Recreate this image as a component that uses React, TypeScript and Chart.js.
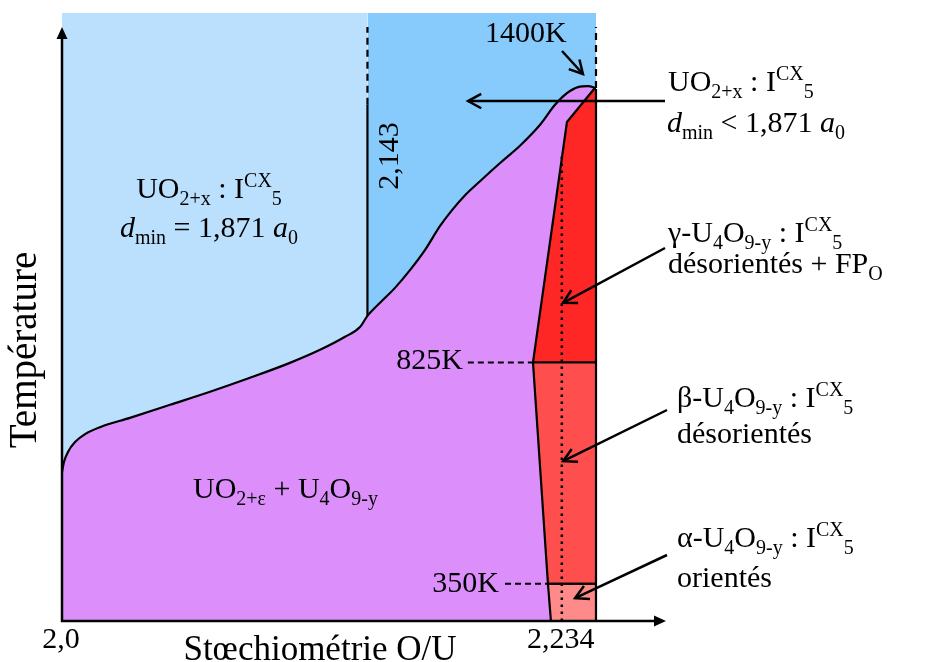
import React, { useEffect, useRef } from "react";
import { Chart, registerables } from "chart.js";
Chart.register(...registerables);

// ---------- data ----------
const stoichMin = 2.0;
const stoichMax = 2.25;
const tempMin = 270;
const tempMax = 1575;

const stoichTicks = [2.0, 2.234];
const stoichTickLabels = ["2,0", "2,234"];

const limit2143 = 2.143;
const limit2143Label = "2,143";
const limitU4O9 = 2.234;

// UO2+x / (UO2+ε + U4O9-y) boundary
const boundaryX = [
  2.0, 2.0009, 2.0028, 2.0061, 2.0108, 2.0178, 2.0318, 2.0506, 2.0693, 2.088,
  2.1067, 2.1208, 2.1325, 2.1395, 2.143, 2.1489, 2.1559, 2.1629, 2.1699, 2.177,
  2.1826, 2.1887, 2.1957, 2.2051, 2.2144, 2.2238, 2.2308, 2.2364, 2.2416, 2.2463,
  2.25,
];
const boundaryT = [
  590, 611, 633, 654, 671, 686, 706, 734, 762, 792,
  824, 852, 880, 901, 925, 953, 985, 1023, 1066, 1118,
  1152, 1184, 1214, 1253, 1290, 1335, 1378, 1403, 1416, 1418,
  1414,
];

// U4O9-y domains
const gammaX = [2.2205, 2.2364, 2.2491, 2.25];
const gammaT = [825, 1341, 1412, 1412];
const betaX = [2.2205, 2.2275, 2.25];
const betaT = [825, 350, 350];
const alphaX = [2.2275, 2.2289, 2.25];
const alphaT = [350, 270, 270];

const transitionT = [350, 825, 1400];
const transitionLabels = ["350K", "825K", "1400K"];
const transitionDashStart = [2.2074, 2.19];
const transitionDashEnd = [2.2275, 2.2205];

const dottedTopT = 1268;
const dash2143Start = 1378;
const dashTopT = 1545;

// ---------- styles ----------
const FONT = "'Liberation Serif', 'Times New Roman', serif";
const C_LIGHTBLUE = "#BBE0FD";
const C_BLUE = "#86CBFB";
const C_PURPLE = "#DC8FFB";
const C_GAMMA = "#FF2626";
const C_BETA = "#FF4E4E";
const C_ALPHA = "#FF8A8A";

const pts = (xs: number[], ts: number[]) => xs.map((x, i) => ({ x, y: ts[i] }));

type Seg = [string, string];

function fontFor(k: string, size: number) {
  const small = Math.round(size * 0.66);
  if (k === "i") return `italic ${size}px ${FONT}`;
  if (k === "s" || k === "p") return `${small}px ${FONT}`;
  return `${size}px ${FONT}`;
}
function richWidth(ctx: CanvasRenderingContext2D, segs: Seg[], size: number) {
  let w = 0;
  for (const [t, k] of segs) {
    ctx.font = fontFor(k, size);
    w += ctx.measureText(t).width;
  }
  return w;
}
function drawRich(
  ctx: CanvasRenderingContext2D,
  segs: Seg[],
  x: number,
  y: number,
  align: "left" | "center",
  size = 30
) {
  let cx = align === "center" ? x - richWidth(ctx, segs, size) / 2 : x;
  ctx.textAlign = "left";
  ctx.textBaseline = "alphabetic";
  for (const [t, k] of segs) {
    ctx.font = fontFor(k, size);
    let dy = 0;
    if (k === "s") dy = size * 0.24;
    if (k === "p") dy = -size * 0.36;
    ctx.fillText(t, cx, y + dy);
    cx += ctx.measureText(t).width;
  }
}

function arrow(ctx: CanvasRenderingContext2D, x0: number, y0: number, x1: number, y1: number) {
  ctx.beginPath();
  ctx.moveTo(x0, y0);
  ctx.lineTo(x1, y1);
  ctx.stroke();
  const ang = Math.atan2(y1 - y0, x1 - x0);
  const L = 15;
  const sp = 0.5;
  ctx.beginPath();
  ctx.moveTo(x1 - L * Math.cos(ang - sp), y1 - L * Math.sin(ang - sp));
  ctx.lineTo(x1, y1);
  ctx.lineTo(x1 - L * Math.cos(ang + sp), y1 - L * Math.sin(ang + sp));
  ctx.stroke();
}

const uoLine1: Seg[] = [["UO", "n"], ["2+x", "s"], [" : I", "n"], ["CX", "p"], ["5", "s"]];
const uoLeftLine2: Seg[] = [["d", "i"], ["min", "s"], [" = 1,871 ", "n"], ["a", "i"], ["0", "s"]];
const uoRightLine2: Seg[] = [["d", "i"], ["min", "s"], [" < 1,871 ", "n"], ["a", "i"], ["0", "s"]];
const u4o9Line = (greek: string): Seg[] => [
  [greek + "-U", "n"], ["4", "s"], ["O", "n"], ["9-y", "s"], [" : I", "n"], ["CX", "p"], ["5", "s"],
];
const gammaLine2: Seg[] = [["désorientés + FP", "n"], ["O", "s"]];
const betaLine2: Seg[] = [["désorientés", "n"]];
const alphaLine2: Seg[] = [["orientés", "n"]];
const mixLabel: Seg[] = [["UO", "n"], ["2+ε", "s"], [" + U", "n"], ["4", "s"], ["O", "n"], ["9-y", "s"]];

const annotationPlugin = {
  id: "annotations",
  afterDatasetsDraw(chart: any) {
    const { ctx, chartArea: a, scales } = chart;
    const X = (v: number) => scales.x.getPixelForValue(v);
    const Y = (v: number) => scales.y.getPixelForValue(v);
    ctx.save();
    ctx.strokeStyle = "#000";
    ctx.fillStyle = "#000";
    ctx.lineWidth = 2.5;
    ctx.lineCap = "butt";

    // axes
    ctx.beginPath();
    ctx.moveTo(a.left, a.bottom + 1);
    ctx.lineTo(a.left, 36);
    ctx.stroke();
    ctx.beginPath();
    ctx.moveTo(a.left, 27);
    ctx.lineTo(a.left - 5.5, 39);
    ctx.lineTo(a.left + 5.5, 39);
    ctx.closePath();
    ctx.fill();

    const xEnd = a.right + 70;
    ctx.beginPath();
    ctx.moveTo(a.left - 1, a.bottom);
    ctx.lineTo(xEnd - 8, a.bottom);
    ctx.stroke();
    ctx.beginPath();
    ctx.moveTo(xEnd, a.bottom);
    ctx.lineTo(xEnd - 12, a.bottom - 5.5);
    ctx.lineTo(xEnd - 12, a.bottom + 5.5);
    ctx.closePath();
    ctx.fill();

    // tick labels
    ctx.font = `30px ${FONT}`;
    ctx.textAlign = "center";
    ctx.textBaseline = "alphabetic";
    stoichTicks.forEach((s, i) => ctx.fillText(stoichTickLabels[i], X(s) - 1, a.bottom + 27));

    // axis titles
    ctx.font = `35px ${FONT}`;
    ctx.fillText("Stœchiométrie O/U", 320, a.bottom + 39);
    ctx.save();
    ctx.translate(36, 350);
    ctx.rotate(-Math.PI / 2);
    ctx.font = `39px ${FONT}`;
    ctx.fillText("Température", 0, 0);
    ctx.restore();

    // 2,143 label
    ctx.save();
    ctx.translate(X(limit2143) + 23, 156);
    ctx.rotate(-Math.PI / 2);
    ctx.font = `30px ${FONT}`;
    ctx.textAlign = "center";
    ctx.textBaseline = "middle";
    ctx.fillText(limit2143Label, 0, 0);
    ctx.restore();

    // transition temperature labels
    ctx.font = `30px ${FONT}`;
    ctx.textAlign = "right";
    ctx.textBaseline = "alphabetic";
    ctx.fillText(transitionLabels[0], X(transitionDashStart[0]) - 6, Y(transitionT[0]) + 8);
    ctx.fillText(transitionLabels[1], X(transitionDashStart[1]) - 5, Y(transitionT[1]) + 7);
    ctx.textAlign = "left";
    ctx.fillText(transitionLabels[2], 485, 42);

    // region labels
    drawRich(ctx, uoLine1, 209, 198, "center");
    drawRich(ctx, uoLeftLine2, 209, 237, "center");
    drawRich(ctx, mixLabel, 193, 498, "left");

    drawRich(ctx, uoLine1, 668, 91, "left");
    drawRich(ctx, uoRightLine2, 667, 132, "left");
    drawRich(ctx, u4o9Line("γ"), 668, 242, "left");
    drawRich(ctx, gammaLine2, 668, 273, "left");
    drawRich(ctx, u4o9Line("β"), 677, 407, "left");
    drawRich(ctx, betaLine2, 677, 443, "left");
    drawRich(ctx, u4o9Line("α"), 677, 547, "left");
    drawRich(ctx, alphaLine2, 677, 587, "left");

    // arrows
    ctx.lineWidth = 2.5;
    arrow(ctx, 562, 51, X(2.2439), Y(1444));
    arrow(ctx, 665, 101, X(2.1901), Y(1386));
    arrow(ctx, 665, 248, X(2.2346), Y(953));
    arrow(ctx, 667, 410, X(2.2346), Y(613));
    arrow(ctx, 667, 555, X(2.2402), Y(319));

    ctx.restore();
  },
};

export default function App() {
  const ref = useRef<HTMLCanvasElement>(null);
  useEffect(() => {
    document.body.style.margin = "0";
    const line = (data: any[], extra: any = {}) => ({
      data,
      borderColor: "#000",
      borderWidth: 2.5,
      pointRadius: 0,
      fill: false,
      clip: 6,
      order: 10,
      ...extra,
    });
    const datasets: any[] = [
      line(pts([stoichMin, limit2143], [tempMax, tempMax]), {
        backgroundColor: C_LIGHTBLUE, borderWidth: 0, fill: "start", order: 100,
      }),
      line(pts([limit2143, stoichMax], [tempMax, tempMax]), {
        backgroundColor: C_BLUE, borderWidth: 0, fill: "start", order: 99,
      }),
      line(pts(boundaryX, boundaryT), {
        backgroundColor: C_PURPLE, fill: "start", order: 50, borderWidth: 2.2,
        cubicInterpolationMode: "monotone",
      }),
      line(pts(gammaX, gammaT), { backgroundColor: C_GAMMA, fill: { value: 825 }, order: 40, borderWidth: 2.2 }),
      line(pts(betaX, betaT), { backgroundColor: C_BETA, fill: { value: 825 }, order: 41, borderWidth: 2.2 }),
      line(pts(alphaX, alphaT), { backgroundColor: C_ALPHA, fill: { value: 350 }, order: 42, borderWidth: 2.2 }),
      line(pts([stoichMax, stoichMax], [tempMin, gammaT[gammaT.length - 1]]), { borderWidth: 2.2 }),
      line(pts([gammaX[0], stoichMax], [transitionT[1], transitionT[1]]), { borderWidth: 2.2 }),
      line(pts([betaX[1], stoichMax], [transitionT[0], transitionT[0]]), { borderWidth: 1.8 }),
      line(pts([transitionDashStart[1], transitionDashEnd[1]], [transitionT[1], transitionT[1]]), {
        borderWidth: 2, borderDash: [6, 4],
      }),
      line(pts([transitionDashStart[0], transitionDashEnd[0]], [transitionT[0], transitionT[0]]), {
        borderWidth: 2, borderDash: [6, 4],
      }),
      line(pts([limit2143, limit2143], [925, dash2143Start]), { borderWidth: 2.2 }),
      line(pts([limit2143, limit2143], [dash2143Start, dashTopT]), { borderWidth: 2.2, borderDash: [7, 5] }),
      line(pts([stoichMax, stoichMax], [1414, dashTopT]), { borderWidth: 2.2, borderDash: [7, 5] }),
      line(pts([limitU4O9, limitU4O9], [tempMin, dottedTopT]), { borderWidth: 2.5, borderDash: [2.5, 4.5], order: 5 }),
    ];
    const chart = new Chart(ref.current as HTMLCanvasElement, {
      type: "line",
      data: { datasets },
      options: {
        animation: false,
        responsive: false,
        layout: { padding: { left: 62, top: 13, right: 333, bottom: 41 } },
        scales: {
          x: { type: "linear", min: stoichMin, max: stoichMax, display: false },
          y: { type: "linear", min: tempMin, max: tempMax, display: false },
        },
        plugins: { legend: { display: false }, tooltip: { enabled: false } },
        elements: { point: { radius: 0 } },
      },
      plugins: [annotationPlugin],
    } as any);
    return () => chart.destroy();
  }, []);
  return (
    <div style={{ position: "absolute", left: 0, top: 0, width: 929, height: 662 }}>
      <canvas ref={ref} width={929} height={662} style={{ display: "block", width: 929, height: 662 }} />
    </div>
  );
}
